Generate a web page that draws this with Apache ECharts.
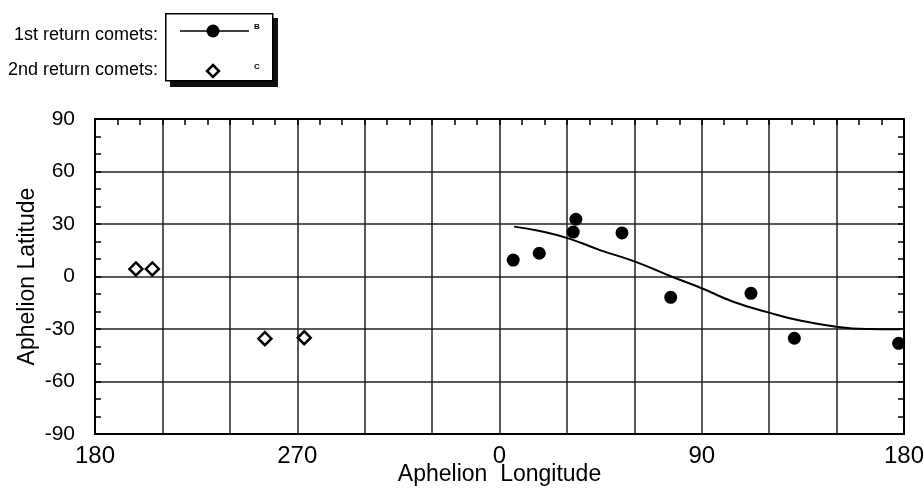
<!DOCTYPE html>
<html>
<head>
<meta charset="utf-8">
<script src="https://cdn.jsdelivr.net/npm/echarts@6/dist/echarts.min.js"></script>
<style>
  html, body { margin: 0; padding: 0; background: #fff; }
  #chart { width: 924px; height: 488px; }
</style>
</head>
<body>
<div id="chart"></div>
<script>
// 1st return comets (filled dots), longitude in degrees, latitude in degrees
var firstLon = [6.1, 17.7, 34.0, 32.8, 54.5, 76.2, 111.9, 131.2, 177.6];
var firstLat = [9.4, 13.3, 32.7, 25.4, 24.9, -11.9, -9.6, -35.3, -38.2];

// 2nd return comets (open diamonds)
var secondLon = [198.2, 205.5, 255.6, 273.1];
var secondLat = [4.3, 4.3, -35.5, -35.0];

// fitted curve through the 1st return comets
var curveLon = [6.5, 18, 30.6, 44.7, 60.3, 75.9, 90, 104, 119.6, 133.7, 150, 163.4, 178.2];
var curveLat = [28.5, 26, 21.8, 15.1, 8.5, 0.3, -6.7, -14.4, -20.5, -25.2, -28.7, -30, -30.2];

// axis runs 180 -> 270 -> 0 -> 90 -> 180
var xLabels = [180, 270, 0, 90, 180];
var yTicks = [-90, -60, -30, 0, 30, 60, 90];

var FONT = '"Liberation Sans", Arial, Helvetica, sans-serif';

// longitudes below 180 sit after 360 on this axis
function unwrap(lon) {
    return lon < 180 ? lon + 360 : lon;
}
function pairs(lons, lats) {
    return lons.map(function (l, i) { return [unwrap(l), lats[i]]; });
}

var chart = echarts.init(document.getElementById('chart'));

var tickStyle = { color: '#000', width: 1.5 };

chart.setOption({
    animation: false,
    backgroundColor: '#fff',
    grid: { left: 95, right: 20, top: 119, bottom: 54, outerBoundsMode: 'none', containLabel: false },
    xAxis: [
        {
            type: 'value',
            min: 180, max: 540, interval: 30,
            position: 'bottom',
            name: 'Aphelion  Longitude',
            nameLocation: 'middle',
            nameGap: 29,
            nameMoveOverlap: false,
            nameTextStyle: { fontFamily: FONT, fontSize: 23, color: '#000' },
            axisLine: { show: true, onZero: false, lineStyle: { color: '#000', width: 2 } },
            axisTick: { show: false },
            axisLabel: {
                fontFamily: FONT, fontSize: 24, color: '#000', margin: 10,
                formatter: function (v) {
                    var lon = v % 360;
                    return xLabels.indexOf(lon) >= 0 && (v - 180) % 90 === 0 ? String(lon) : '';
                }
            },
            splitLine: { show: true, lineStyle: { color: '#222', width: 1.5 } }
        },
        {
            type: 'value',
            min: 180, max: 540, interval: 30,
            position: 'top',
            axisLine: { show: true, onZero: false, lineStyle: { color: '#000', width: 2 } },
            axisTick: { show: true, inside: true, length: 6, lineStyle: tickStyle },
            minorTick: { show: true, splitNumber: 3, length: 6, lineStyle: tickStyle },
            axisLabel: { show: false },
            splitLine: { show: false }
        }
    ],
    yAxis: [
        {
            type: 'value',
            min: -90, max: 90, interval: 30,
            position: 'left',
            name: 'Aphelion Latitude',
            nameLocation: 'middle',
            nameGap: 56,
            nameMoveOverlap: false,
            nameTextStyle: { fontFamily: FONT, fontSize: 23, color: '#000' },
            axisLine: { show: true, onZero: false, lineStyle: { color: '#000', width: 2 } },
            axisTick: { show: true, inside: true, length: 6, lineStyle: tickStyle },
            minorTick: { show: true, splitNumber: 3, length: 6, lineStyle: tickStyle },
            axisLabel: {
                fontFamily: FONT, fontSize: 21, color: '#000', margin: 20,
                formatter: function (v) { return yTicks.indexOf(v) >= 0 ? String(v) : ''; }
            },
            splitLine: { show: true, lineStyle: { color: '#222', width: 1.5 } }
        },
        {
            type: 'value',
            min: -90, max: 90, interval: 30,
            position: 'right',
            axisLine: { show: true, onZero: false, lineStyle: { color: '#000', width: 2 } },
            axisTick: { show: true, inside: true, length: 6, lineStyle: tickStyle },
            minorTick: { show: true, splitNumber: 3, length: 6, lineStyle: tickStyle },
            axisLabel: { show: false },
            splitLine: { show: false }
        }
    ],
    series: [
        {
            name: 'fit',
            type: 'line',
            smooth: true,
            symbol: 'none',
            data: pairs(curveLon, curveLat),
            lineStyle: { color: '#000', width: 2 },
            z: 3
        },
        {
            name: '1st return comets',
            type: 'scatter',
            symbol: 'circle',
            symbolSize: 13,
            data: pairs(firstLon, firstLat),
            itemStyle: { color: '#000', opacity: 1 },
            z: 4
        },
        {
            name: '2nd return comets',
            type: 'scatter',
            symbol: 'diamond',
            symbolSize: [13, 13],
            data: pairs(secondLon, secondLat),
            itemStyle: { color: '#fff', borderColor: '#000', borderWidth: 2.5, opacity: 1 },
            z: 4
        }
    ],
    graphic: [
        // legend box with its drop shadow
        { type: 'rect', left: 170, top: 18, shape: { width: 108, height: 69 }, style: { fill: '#111' }, z: 10 },
        { type: 'rect', left: 165, top: 13, shape: { width: 107, height: 67 }, style: { fill: '#fff', stroke: '#000', lineWidth: 1.5 }, z: 11 },
        { type: 'line', shape: { x1: 180, y1: 31, x2: 249, y2: 31 }, style: { stroke: '#000', lineWidth: 1.5 }, z: 12 },
        { type: 'circle', shape: { cx: 213, cy: 31, r: 6.5 }, style: { fill: '#000' }, z: 12 },
        { type: 'polygon', shape: { points: [[213, 65], [219, 71], [213, 77], [207, 71]] }, style: { fill: '#fff', stroke: '#000', lineWidth: 2.5 }, z: 12 },
        { type: 'text', left: 254, top: 23, style: { text: 'B', font: 'bold 8px ' + FONT, fill: '#000' }, z: 12 },
        { type: 'text', left: 254, top: 63, style: { text: 'C', font: 'bold 8px ' + FONT, fill: '#000' }, z: 12 },
        // legend captions to the left of the box
        { type: 'text', right: 924 - 158, top: 26, style: { text: '1st return comets:', font: '18px ' + FONT, fill: '#000', textAlign: 'right' }, z: 12 },
        { type: 'text', right: 924 - 158, top: 61, style: { text: '2nd return comets:', font: '18px ' + FONT, fill: '#000', textAlign: 'right' }, z: 12 }
    ]
});
</script>
</body>
</html>
